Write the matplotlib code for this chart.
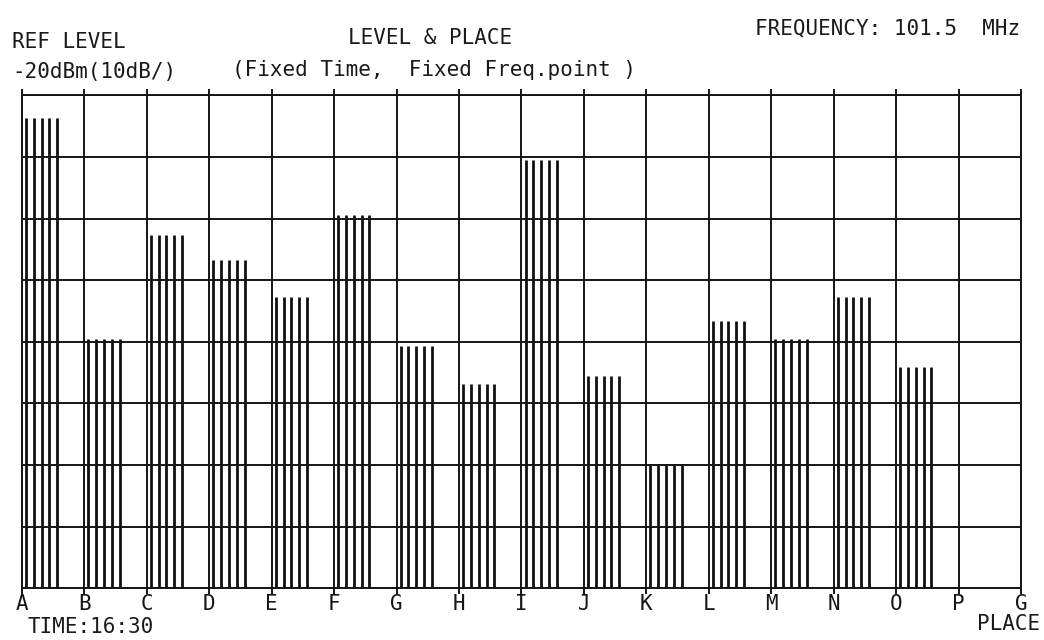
"""
Level & place plot (spectrum analyser plotter style).
"""
import matplotlib
matplotlib.use('Agg')
import matplotlib.pyplot as plt
import numpy as np

# Data
places = ['A', 'B', 'C', 'D', 'E', 'F', 'G', 'H', 'I', 'J', 'K', 'L', 'M', 'N', 'O']
levels = [-23.7, -59.6, -42.6, -46.7, -52.8, -39.4, -60.7, -66.8,
          -30.5, -65.6, -79.8, -56.7, -59.6, -52.8, -64.1]  # dBm
tick_labels = ['A', 'B', 'C', 'D', 'E', 'F', 'G', 'H', 'I', 'J', 'K',
               'L', 'M', 'N', 'O', 'P', 'G']
ref_level = -20
db_div = 10
n_div = 8

FONT = 'DejaVu Sans Mono'
plt.rcParams['font.family'] = FONT

fig = plt.figure(figsize=(10.44, 6.4), dpi=100)
ax = fig.add_axes([0.021, 0.081, 0.957, 0.770])

bottom = ref_level - db_div * n_div
ax.set_xlim(0, len(tick_labels) - 1)
ax.set_ylim(bottom, ref_level)

# each bar is drawn as a comb of thin vertical strokes
offsets = 0.065 + 0.125 * np.arange(5)
for i, lev in enumerate(levels):
    ax.vlines(i + offsets, bottom, lev, colors='#111111', linewidth=2.0)

ax.set_xticks(np.arange(len(tick_labels)))
ax.set_xticklabels(tick_labels, fontsize=15)
ax.set_yticks(np.arange(bottom, ref_level + 1, db_div))
ax.set_yticklabels([])
ax.grid(True, color='#151515', linewidth=1.4)
ax.set_axisbelow(False)
ax.tick_params(axis='x', direction='out', length=4, width=1.4, pad=0,
               top=True, colors='#151515')
ax.tick_params(axis='y', length=0)
for s in ax.spines.values():
    s.set_linewidth(1.4)
    s.set_color('#151515')

txt = dict(fontsize=15, color='#1a1a1a', family=FONT)
fig.text(12 / 1044, 1 - 42 / 640, 'REF LEVEL', va='center', **txt)
fig.text(12 / 1044, 1 - 72 / 640, '-20dBm(10dB/)', va='center', **txt)
fig.text(430 / 1044, 1 - 38 / 640, 'LEVEL & PLACE', ha='center', va='center', **txt)
fig.text(232 / 1044, 1 - 70 / 640, '(Fixed Time,  Fixed Freq.point )', va='center', **txt)
fig.text(1020 / 1044, 1 - 28 / 640, 'FREQUENCY: 101.5  MHz', ha='right', va='center', **txt)
fig.text(28 / 1044, 1 - 627 / 640, 'TIME:16:30', va='center', **txt)
fig.text(1040 / 1044, 1 - 624 / 640, 'PLACE', ha='right', va='center', **txt)

fig.savefig('out.png', dpi=100)
